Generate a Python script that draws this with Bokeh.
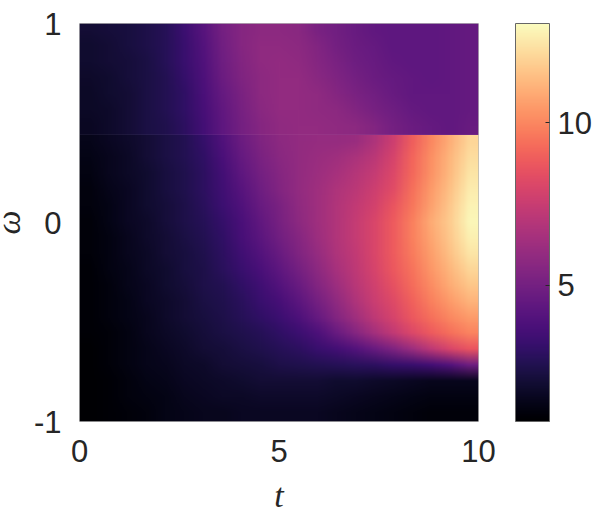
import numpy as np
from bokeh.plotting import figure
from bokeh.models import LinearColorMapper, ColorBar, FixedTicker
from bokeh.palettes import Magma256
from bokeh.embed import file_html
from bokeh.resources import INLINE

x_ticks = [0, 5, 10]
y_ticks = [-1, 0, 1]
x_tick_labels = {0: "0", 5: "5", 10: "10"}
y_tick_labels = {-1: "-1", 0: "0", 1: "1"}
cbar_ticks = [5, 10]
vmin, vmax = 0.8, 13.05
t_span = (0, 10)
edge_w = 0.44
w_span = (-1, 1)

# Values, columns t = 0, 0.5, ..., 10; rows top to bottom.
upper = [
 [2.0,2.1,2.2,2.4,2.7,3.3,4.1,5.0,5.5,5.7,5.7,5.6,5.2,4.9,4.6,4.4,4.3,4.3,4.3,4.4,4.5],
 [1.9,2.0,2.2,2.4,2.7,3.2,4.0,4.9,5.5,5.8,5.8,5.7,5.4,5.0,4.7,4.5,4.3,4.3,4.3,4.4,4.5],
 [1.9,2.0,2.1,2.3,2.7,3.2,3.9,4.8,5.4,5.8,5.9,5.8,5.5,5.2,4.8,4.6,4.4,4.3,4.3,4.4,4.5],
 [1.8,1.9,2.1,2.3,2.6,3.1,3.8,4.7,5.3,5.7,5.9,5.9,5.6,5.3,5.0,4.7,4.5,4.4,4.3,4.4,4.5],
 [1.7,1.9,2.0,2.3,2.6,3.0,3.7,4.5,5.2,5.7,5.9,5.9,5.8,5.5,5.2,4.9,4.6,4.4,4.4,4.4,4.5],
 [1.7,1.8,2.0,2.3,2.6,3.0,3.6,4.4,5.1,5.6,5.9,5.9,5.8,5.7,5.4,5.1,4.8,4.5,4.4,4.4,4.5],
 [1.6,1.8,2.0,2.3,2.5,2.9,3.5,4.3,5.0,5.5,5.8,5.9,5.9,5.8,5.7,5.4,5.0,4.7,4.5,4.4,4.6],
]
lower = [
 [1.4,1.6,1.8,2.0,2.3,2.6,3.1,3.9,4.7,5.3,5.7,5.9,6.0,6.0,6.1,6.7,7.6,8.9,10.0,11.0,12.0],
 [1.3,1.5,1.7,2.0,2.3,2.6,3.0,3.7,4.5,5.2,5.6,5.9,6.1,6.3,6.6,7.1,7.9,9.1,10.2,11.2,12.2],
 [1.2,1.5,1.7,1.9,2.2,2.5,2.9,3.5,4.3,5.0,5.5,5.9,6.2,6.5,6.9,7.4,8.1,9.2,10.3,11.3,12.4],
 [1.1,1.4,1.6,1.9,2.2,2.5,2.9,3.4,4.1,4.8,5.4,5.9,6.3,6.7,7.1,7.6,8.3,9.4,10.5,11.5,12.6],
 [1.1,1.3,1.6,1.9,2.1,2.4,2.8,3.3,3.9,4.6,5.2,5.8,6.3,6.8,7.3,7.8,8.6,9.6,10.7,11.7,12.8],
 [1.0,1.3,1.6,1.8,2.1,2.4,2.7,3.1,3.7,4.4,5.1,5.7,6.3,6.8,7.4,8.0,8.8,9.8,10.9,11.8,12.9],
 [1.0,1.2,1.5,1.8,2.0,2.3,2.6,3.0,3.6,4.2,4.9,5.5,6.2,6.8,7.4,8.0,8.8,9.8,10.8,11.7,12.7],
 [1.0,1.2,1.5,1.7,2.0,2.2,2.5,2.9,3.4,4.0,4.6,5.3,6.0,6.7,7.3,8.0,8.8,9.7,10.6,11.5,12.4],
 [0.9,1.2,1.4,1.7,1.9,2.2,2.4,2.8,3.2,3.7,4.3,5.0,5.7,6.5,7.2,7.9,8.7,9.5,10.4,11.2,12.0],
 [0.9,1.1,1.4,1.6,1.9,2.1,2.4,2.6,3.0,3.4,4.0,4.6,5.4,6.2,7.0,7.7,8.5,9.3,10.1,10.9,11.6],
 [0.9,1.1,1.3,1.6,1.8,2.0,2.3,2.5,2.8,3.2,3.6,4.2,5.0,5.8,6.7,7.5,8.2,9.0,9.8,10.5,11.1],
 [0.9,1.1,1.3,1.5,1.8,2.0,2.2,2.4,2.7,3.0,3.3,3.8,4.5,5.4,6.3,7.2,7.9,8.7,9.4,10.0,10.5],
 [0.9,1.0,1.2,1.5,1.7,1.9,2.1,2.3,2.5,2.7,3.0,3.3,3.8,4.6,5.5,6.4,7.3,8.1,8.8,9.4,9.9],
 [0.8,1.0,1.2,1.4,1.6,1.8,2.0,2.1,2.3,2.5,2.7,2.9,3.2,3.5,4.0,4.6,5.3,6.2,7.2,8.0,8.6],
 [0.8,1.0,1.2,1.4,1.5,1.7,1.8,2.0,2.1,2.2,2.4,2.5,2.6,2.7,2.8,2.9,3.1,3.2,3.5,4.0,4.8],
 [0.8,0.9,1.1,1.3,1.4,1.6,1.7,1.8,1.9,2.0,2.0,2.0,2.0,1.9,1.9,1.8,1.7,1.6,1.5,1.5,1.5],
 [0.8,0.9,1.1,1.2,1.3,1.5,1.6,1.7,1.7,1.8,1.8,1.8,1.8,1.7,1.6,1.5,1.4,1.3,1.2,1.2,1.2],
 [0.8,0.9,1.0,1.1,1.3,1.4,1.5,1.5,1.6,1.6,1.6,1.6,1.6,1.5,1.4,1.3,1.2,1.1,1.0,1.0,1.0],
]

mapper = LinearColorMapper(palette=Magma256, low=vmin, high=vmax)

p = figure(width=612, height=517, x_range=t_span, y_range=w_span,
           output_backend="svg", toolbar_location=None,
           min_border_left=93, min_border_right=120, min_border_top=23, min_border_bottom=96,
           x_axis_label="t", y_axis_label="ω", margin=(0, 0, -4, -14))
p.grid.visible = False
p.outline_line_color = "#b8b8b8"
p.outline_line_width = 1

p.image(image=[np.array(lower[::-1], dtype=float)], x=t_span[0], y=w_span[0],
        dw=t_span[1]-t_span[0], dh=edge_w-w_span[0], color_mapper=mapper)
p.image(image=[np.array(upper[::-1], dtype=float)], x=t_span[0], y=edge_w,
        dw=t_span[1]-t_span[0], dh=w_span[1]-edge_w, color_mapper=mapper)

for ax, ticks, labels in ((p.xaxis[0], x_ticks, x_tick_labels), (p.yaxis[0], y_ticks, y_tick_labels)):
    ax.ticker = FixedTicker(ticks=ticks)
    ax.major_label_overrides = labels
    ax.major_tick_line_color = None
    ax.minor_tick_line_color = None
    ax.axis_line_color = None
    ax.major_label_text_font = "Liberation Sans"
    ax.major_label_text_font_size = "31px"
    ax.major_label_text_color = "#262626"
    ax.major_label_standoff = 12
    ax.axis_label_text_font = "Liberation Serif"
    ax.axis_label_text_font_style = "italic"
    ax.axis_label_text_font_size = "34px"
    ax.axis_label_text_color = "#262626"
    ax.axis_label_standoff = 4
p.yaxis[0].major_label_orientation = "horizontal"
p.xaxis[0].axis_label_standoff = 12

cb = ColorBar(color_mapper=mapper, ticker=FixedTicker(ticks=cbar_ticks),
              location=(436, 0), width=34, height=398, padding=0, margin=0,
              bar_line_color="#666666", major_tick_line_color="#262626",
              major_tick_in=4, major_label_text_font="Liberation Sans",
              major_label_text_font_size="31px", major_label_text_color="#262626",
              label_standoff=8, background_fill_alpha=0, border_line_color=None,
              minor_tick_line_color=None)
p.add_layout(cb, "center")

early = """<script>
Object.defineProperty(CanvasRenderingContext2D.prototype,'imageSmoothingEnabled',{configurable:true,get(){return true},set(v){}});
function walk(root){root.querySelectorAll('*').forEach(el=>{
  if(el.tagName.toLowerCase()==='image'){el.style.setProperty('image-rendering','auto','important');el.setAttribute('image-rendering','auto');}
  if(el.shadowRoot) walk(el.shadowRoot);});}
setInterval(()=>{walk(document)},100);
</script>"""
html = file_html(p, INLINE).replace("<head>", "<head>" + early, 1)
open("out.html", "w").write(html)
